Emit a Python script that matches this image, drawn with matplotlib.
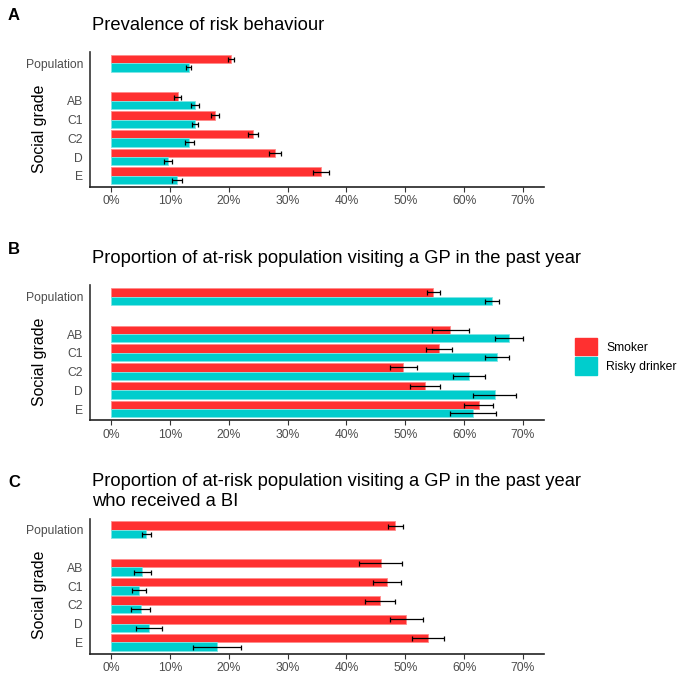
import matplotlib
matplotlib.use("Agg")
import matplotlib.pyplot as plt
from matplotlib.patches import Patch
from matplotlib.ticker import FuncFormatter

plt.rcParams['font.family'] = ['Liberation Sans', 'DejaVu Sans']

categories = ["Population", "AB", "C1", "C2", "D", "E"]
cat_pos = [7, 5, 4, 3, 2, 1]
series_names = ["Smoker", "Risky drinker"]
colors = ["#FF3030", "#00CDCD"]
edge_colors = ["#FF8A8A", "#7FE6E6"]

titles = ["Prevalence of risk behaviour",
          "Proportion of at-risk population visiting a GP in the past year",
          "Proportion of at-risk population visiting a GP in the past year\nwho received a BI"]
panel_labels = ["A", "B", "C"]

# Panel A
a_smoker = [20.4, 11.3, 17.7, 24.1, 27.9, 35.7]
a_smoker_err = [0.5, 0.6, 0.65, 0.85, 1.05, 1.3]
a_drinker = [13.2, 14.2, 14.25, 13.3, 9.6, 11.2]
a_drinker_err = [0.4, 0.7, 0.55, 0.7, 0.7, 0.9]
# Panel B
b_smoker = [54.8, 57.7, 55.7, 49.7, 53.3, 62.5]
b_smoker_err = [1.1, 3.2, 2.2, 2.3, 2.55, 2.5]
b_drinker = [64.8, 67.6, 65.6, 60.8, 65.2, 61.6]
b_drinker_err = [1.2, 2.4, 2.05, 2.75, 3.6, 3.9]
# Panel C
c_smoker = [48.3, 45.8, 46.9, 45.7, 50.2, 53.9]
c_smoker_err = [1.3, 3.6, 2.4, 2.6, 2.8, 2.7]
c_drinker = [6.0, 5.3, 4.7, 5.0, 6.4, 18.0]
c_drinker_err = [0.8, 1.5, 1.15, 1.6, 2.25, 4.1]

x_ticks = [0, 10, 20, 30, 40, 50, 60, 70]

panels = [
    (a_smoker, a_smoker_err, a_drinker, a_drinker_err),
    (b_smoker, b_smoker_err, b_drinker, b_drinker_err),
    (c_smoker, c_smoker_err, c_drinker, c_drinker_err),
]

W = H = 700
fig = plt.figure(figsize=(7, 7), dpi=100)

row_h = 233.3
ax_left, ax_right = 90, 544
ax_top_rel, ax_bot_rel = 52, 187
bar_h = 0.45

for i, (sm, sme, dr, dre) in enumerate(panels):
    off = i * row_h
    top = off + ax_top_rel
    bot = off + ax_bot_rel
    ax = fig.add_axes([ax_left / W, 1 - bot / H, (ax_right - ax_left) / W, (bot - top) / H])
    for j, (vals, errs) in enumerate([(sm, sme), (dr, dre)]):
        shift = bar_h / 2 if j == 0 else -bar_h / 2
        ys = [p + shift for p in cat_pos]
        ax.barh(ys, vals, height=bar_h, color=colors[j], edgecolor=edge_colors[j],
                linewidth=0.6, zorder=2)
        ax.errorbar(vals, ys, xerr=errs, fmt='none', ecolor='black', elinewidth=0.9,
                    capsize=1.8, capthick=0.9, zorder=3)
    ax.set_xlim(-3.6, 73.6)
    ax.set_ylim(0.4, 7.6)
    ax.set_xticks(x_ticks)
    ax.xaxis.set_major_formatter(FuncFormatter(lambda v, p: f"{int(round(v))}%"))
    ax.set_yticks(cat_pos)
    ax.set_yticklabels(categories)
    ax.tick_params(axis='x', length=3.5, width=0.8, color='#333333', pad=2.5,
                   labelsize=8.7, labelcolor='#4D4D4D')
    ax.tick_params(axis='y', length=0, pad=5, labelsize=8.7, labelcolor='#4D4D4D')
    for s in ['top', 'right']:
        ax.spines[s].set_visible(False)
    ax.spines['left'].set_color('#333333')
    ax.spines['bottom'].set_color('#222222')
    ax.spines['left'].set_linewidth(1.2)
    ax.spines['bottom'].set_linewidth(1.2)
    ax.set_ylabel("Social grade", fontsize=11.4, color='black')
    ax.yaxis.set_label_coords((47 - ax_left) / (ax_right - ax_left),
                              (ax_bot_rel - 128.5) / (ax_bot_rel - ax_top_rel))
    fig.text(92 / W, 1 - (off + 25) / H, titles[i], fontsize=13.2, color='black',
             ha='left', va='center', linespacing=1.25)
    fig.text(8 / W, 1 - (off + 16) / H, panel_labels[i], fontsize=12, fontweight='bold',
             ha='left', va='center')

handles = [Patch(facecolor=colors[k], edgecolor=colors[k], label=series_names[k]) for k in range(2)]
fig.legend(handles=handles, loc='upper left', bbox_to_anchor=(575 / W, 1 - 338 / H),
           frameon=False, fontsize=8.7, handlelength=1.85, handleheight=1.85,
           handletextpad=0.75, labelspacing=0.15, borderpad=0, borderaxespad=0)

fig.savefig("out.png", dpi=100)
